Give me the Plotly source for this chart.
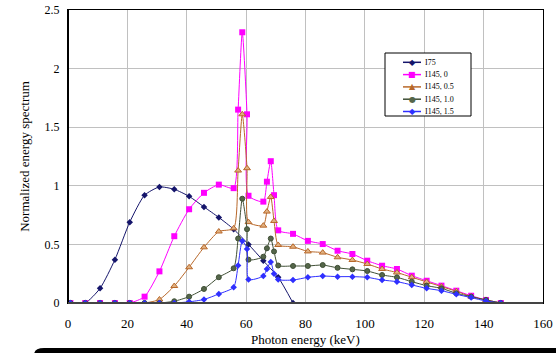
import plotly.graph_objects as go

# Photon energy (keV) grid for I145 spectra
energy = [0.8, 5.8, 10.8, 15.8, 20.8, 25.8, 30.8, 35.8, 40.8, 45.8, 50.8, 55.8,
          57.3, 58.7, 60.3, 60.8, 65.8, 67.0, 68.3, 69.4, 70.8, 75.8, 80.8, 85.8,
          90.8, 95.8, 100.8, 105.8, 110.8, 115.8, 120.8, 125.8, 130.8, 135.8, 140.8, 145.8]

energy_i75 = [0.8, 5.8, 10.8, 15.8, 20.8, 25.8, 30.8, 35.8, 40.8, 45.8, 50.8, 55.8,
              60.8, 65.8, 70.8, 75.8]
i75 = [0, 0, 0.125, 0.37, 0.69, 0.92, 0.99, 0.97, 0.91, 0.82, 0.73, 0.63,
       0.50, 0.36, 0.22, 0.0]

i145_0 = [0, 0, 0, 0, 0, 0.054, 0.27, 0.57, 0.80, 0.94, 1.01, 0.98,
          1.65, 2.31, 1.61, 0.915, 0.865, 1.035, 1.21, 0.92, 0.62, 0.59, 0.53, 0.503,
          0.446, 0.418, 0.361, 0.318, 0.29, 0.233, 0.19, 0.148, 0.105, 0.062, 0.026, 0]
i145_05 = [0, 0, 0, 0, 0, 0, 0.03, 0.145, 0.305, 0.475, 0.61, 0.637,
           1.13, 1.61, 1.15, 0.69, 0.66, 0.78, 0.905, 0.70, 0.495, 0.48, 0.44, 0.43,
           0.39, 0.367, 0.333, 0.29, 0.26, 0.22, 0.18, 0.14, 0.10, 0.055, 0.026, 0]
i145_10 = [0, 0, 0, 0, 0, 0, 0, 0.015, 0.054, 0.12, 0.22, 0.296,
           0.55, 0.89, 0.63, 0.37, 0.395, 0.467, 0.55, 0.44, 0.32, 0.316, 0.316, 0.324,
           0.30, 0.287, 0.273, 0.239, 0.219, 0.182, 0.148, 0.125, 0.083, 0.054, 0.026, 0]
i145_15 = [0, 0, 0, 0, 0, 0, 0, 0, 0.01, 0.03, 0.077, 0.134,
           0.32, 0.53, 0.46, 0.2, 0.23, 0.29, 0.35, 0.25, 0.2, 0.196, 0.219, 0.23,
           0.225, 0.225, 0.219, 0.196, 0.182, 0.154, 0.125, 0.105, 0.074, 0.046, 0.017, 0]

x_ticks = [0, 20, 40, 60, 80, 100, 120, 140, 160]
y_ticks = [0, 0.5, 1, 1.5, 2, 2.5]
y_tick_labels = ["0", "0.5", "1", "1.5", "2", "2.5"]

series = [
    ("I75", energy_i75, i75, "#15156b", dict(symbol="diamond", size=5, color="#15156b"), "◆"),
    ("I145, 0", energy, i145_0, "#ff00ff", dict(symbol="square", size=6, color="#ff00ff"), "■"),
    ("I145, 0.5", energy, i145_05, "#b8682a", dict(symbol="triangle-up", size=6, color="#e0b080",
                                                   line=dict(color="#b8682a", width=1)), "▲"),
    ("I145, 1.0", energy, i145_10, "#3f4f35", dict(symbol="circle", size=5, color="#55664a",
                                                   line=dict(color="#3f4f35", width=1)), "●"),
    ("I145, 1.5", energy, i145_15, "#2f2fff", dict(symbol="diamond", size=5, color="#2f2fff"), "◆"),
]

fig = go.Figure()
for name, xs, ys, col, mk, _ in series:
    fig.add_trace(go.Scatter(
        x=xs, y=ys, name=name, mode="lines+markers",
        line=dict(color=col, width=1, shape="spline", smoothing=0.6),
        marker=mk, showlegend=False,
    ))

font_family = "Liberation Serif, Times New Roman, serif"

# plot-area pixel geometry (for placing the hand-drawn legend)
L, R, T, B = 68, 543, 10, 303
W, H = R - L, B - T


def px(xp):
    return (xp - L) / W


def py(yp):
    return (B - yp) / H


shapes = [
    dict(type="line", xref="paper", yref="paper", x0=0, x1=0, y0=0, y1=1,
         line=dict(color="black", width=2), layer="above"),
    dict(type="line", xref="paper", yref="paper", x0=0, x1=1, y0=0, y1=0,
         line=dict(color="#444444", width=2), layer="above"),
    # legend box
    dict(type="rect", xref="paper", yref="paper", x0=px(385), x1=px(471), y0=py(116), y1=py(53),
         fillcolor="white", line=dict(color="black", width=1), layer="above"),
    # black strip along the bottom of the picture
    dict(type="path", xref="paper", yref="paper",
         path=f"M {px(34)},{py(360)} L {px(34)},{py(355)} Q {px(34)},{py(348)} {px(44)},{py(348)} "
              f"L {px(560)},{py(348)} L {px(560)},{py(360)} Z",
         fillcolor="black", line=dict(width=0), layer="above"),
]

annotations = [
    dict(text="Photon energy (keV)", xref="paper", yref="paper", x=0.5, y=py(339.5),
         xanchor="center", yanchor="middle", showarrow=False,
         font=dict(family=font_family, size=13)),
]

row0, gap = 62.3, 12.3
for i, (name, xs, ys, col, mk, glyph) in enumerate(series):
    yrow = row0 + gap * i
    shapes.append(dict(type="line", xref="paper", yref="paper", x0=px(403), x1=px(421),
                       y0=py(yrow), y1=py(yrow), line=dict(color=col, width=1.5), layer="above"))
    gcol = mk.get("line", {}).get("color", mk["color"]) if glyph == "▲" else mk["color"]
    annotations.append(dict(text=glyph, xref="paper", yref="paper", x=px(412), y=py(yrow),
                            xanchor="center", yanchor="middle", showarrow=False,
                            font=dict(family="DejaVu Sans", size=8, color=gcol)))
    annotations.append(dict(text=name, xref="paper", yref="paper", x=px(423), y=py(yrow),
                            xanchor="left", yanchor="middle", showarrow=False,
                            font=dict(family=font_family, size=8, color="black")))

fig.update_layout(
    width=556, height=353,
    margin=dict(l=L, r=556 - R, t=T, b=353 - B, autoexpand=False),
    paper_bgcolor="white", plot_bgcolor="white",
    font=dict(family=font_family, size=12, color="black"),
    showlegend=False,
    xaxis=dict(
        range=[0, 160], tickvals=x_ticks, ticks="", showgrid=True,
        gridcolor="#c0c0c0", gridwidth=1, zeroline=False,
        showline=True, linecolor="black", linewidth=1, mirror=True,
        tickfont=dict(size=13), fixedrange=True, automargin=False,
        ticklabelstandoff=8,
    ),
    yaxis=dict(
        range=[0, 2.5], tickvals=y_ticks, ticktext=y_tick_labels, ticks="",
        showgrid=True, gridcolor="#c0c0c0", gridwidth=1, zeroline=False,
        showline=True, linecolor="black", linewidth=1, mirror=True,
        tickfont=dict(size=12), fixedrange=True, automargin=False,
        ticklabelstandoff=5,
        title=dict(text="Normalized energy spectrum", font=dict(size=13), standoff=12),
    ),
    annotations=annotations,
    shapes=shapes,
)

fig.write_html("out.html")
